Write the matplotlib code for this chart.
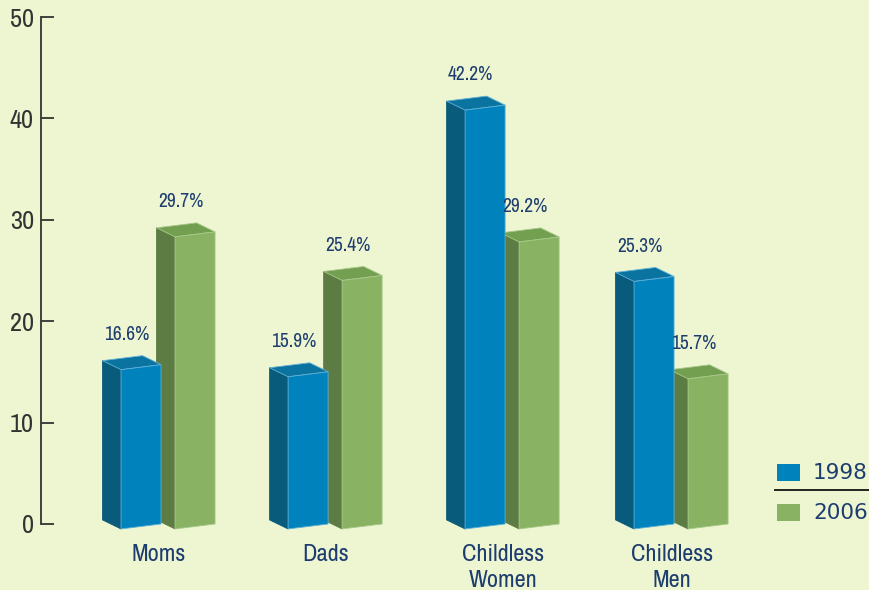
import matplotlib.pyplot as plt
from matplotlib.patches import Polygon, Rectangle
import matplotlib.lines as mlines

# data
categories = ["Moms", "Dads", "Childless\nWomen", "Childless\nMen"]
years = ["1998", "2006"]
vals_1998 = [16.6, 15.9, 42.2, 25.3]
vals_2006 = [29.7, 25.4, 29.2, 15.7]
yticks = [0, 10, 20, 30, 40, 50]

# layout: group slots are not evenly spaced in the original
xpos = [0, 0.977, 2.012, 3.0]

# colours (front, side, top)
bg = "#edf5d1"
blue = ("#0083bd", "#085b7b", "#0a73a0")
green = ("#8ab263", "#5d7c43", "#72a050")
navy = "#1e3d6f"

# fake 3d geometry, in data units
w = 0.234     # front width
dx = 0.108    # depth, x
dy = 0.89     # depth, y
s = 0.49      # slant of front face
g_off = 0.316 # shift of 2006 bar

lab_font = dict(family=["Archivo Narrow", "DejaVu Sans"], fontstretch="condensed")

fig = plt.figure(figsize=(8.69, 5.9), dpi=100, facecolor=bg)
ax = fig.add_axes([0, 0, 1, 1], facecolor=bg)
ax.set_xlim(-0.7076, 4.374)
ax.set_ylim(-6.51, 51.68)


def bar3d(ax, xl, v, cols, edge):
    flb = (xl, -s)
    frb = (xl + w, 0)
    frt = (xl + w, v - dy)
    flt = (xl, v - dy - s)
    blb = (xl - dx, -s + dy)
    blt = (xl - dx, v - s)
    brt = (xl + w - dx, v)
    ax.add_patch(Polygon([blb, flb, flt, blt], closed=True, fc=cols[1], ec=cols[1], lw=0.6))
    ax.add_patch(Polygon([blt, brt, frt, flt], closed=True, fc=cols[2], ec=edge, lw=0.6))
    ax.add_patch(Polygon([flb, frb, frt, flt], closed=True, fc=cols[0], ec=edge, lw=0.6))
    # value label over the cap
    ax.text(xl + (w - dx) / 2 - 0.03, v + 2.1, f"{v}%", ha="center", va="center",
            color=navy, fontsize=14, **lab_font)


for i in range(len(categories)):
    x = xpos[i]
    bar3d(ax, x + g_off, vals_2006[i], green, "#a8c98a")
    bar3d(ax, x, vals_1998[i], blue, "#5fb0d6")
    ax.text(x + 0.22, -1.95, categories[i], ha="center", va="top", color=navy,
            fontsize=17.5, linespacing=1.3, **lab_font)

# y axis
for sp in ["top", "right", "bottom"]:
    ax.spines[sp].set_visible(False)
ax.spines["left"].set_position(("data", -0.468))
ax.spines["left"].set_bounds(0, 50)
ax.spines["left"].set_color("#333333")
ax.spines["left"].set_linewidth(1.3)
ax.set_yticks(yticks)
ax.set_yticklabels([str(t) for t in yticks], fontsize=19, color="#333333", **lab_font)
ax.tick_params(axis="y", direction="in", length=9, width=1.3, color="#333333", pad=5)
ax.set_xticks([])

# legend by hand
fig.add_artist(Rectangle((777 / 869, 1 - 481 / 590), 23 / 869, 17 / 590,
                         transform=fig.transFigure, fc=blue[0], ec="none"))
fig.add_artist(Rectangle((777 / 869, 1 - 521 / 590), 23 / 869, 17 / 590,
                         transform=fig.transFigure, fc=green[0], ec="none"))
fig.text(813 / 869, 1 - 473 / 590, years[0], ha="left", va="center", fontsize=15.5, color=navy)
fig.text(813 / 869, 1 - 513 / 590, years[1], ha="left", va="center", fontsize=15.5, color=navy)
fig.add_artist(mlines.Line2D([775 / 869, 1.0], [1 - 490 / 590, 1 - 490 / 590],
                             transform=fig.transFigure, color="#222222", lw=1.4))

fig.savefig("out.png", dpi=100, facecolor=bg)
